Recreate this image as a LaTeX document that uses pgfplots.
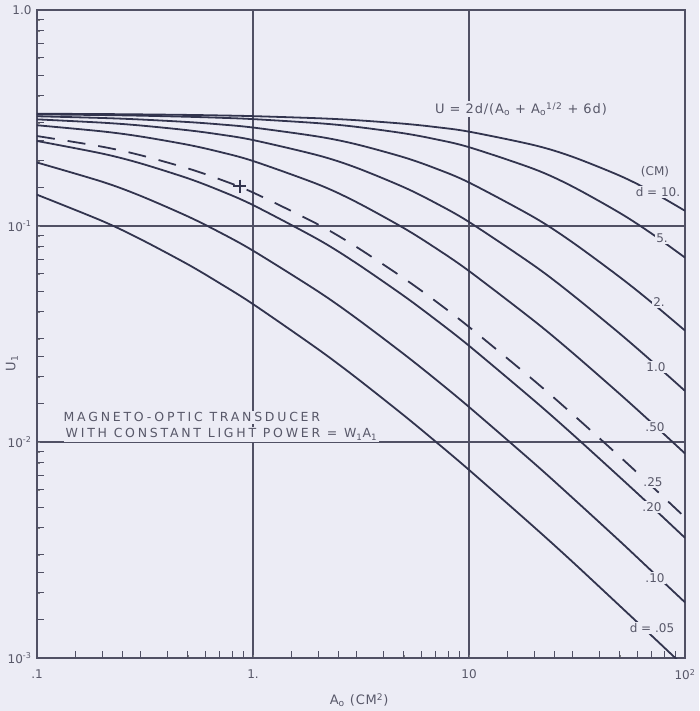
\documentclass[border=0pt]{standalone}
\usepackage{fontspec}
\setmainfont{DejaVu Sans}
\newfontfamily\spaced[LetterSpace=22]{DejaVu Sans}
\newfontfamily\formfont[LetterSpace=7]{DejaVu Sans}
\usepackage{pgfplots}
\pgfplotsset{compat=1.18}
\definecolor{bg}{RGB}{236,236,245}
\definecolor{ink}{RGB}{50,52,78}
\definecolor{frame}{RGB}{80,80,100}
\definecolor{txt}{RGB}{88,88,105}
\tikzset{curve/.style={ink, line width=1.8pt, smooth, mark=none}}
\begin{document}
\begin{tikzpicture}[x=1pt,y=1pt]
\fill[bg, use as bounding box] (0,0) rectangle (699,711);
\begin{axis}[
  at={(37pt,53pt)}, anchor=south west,
  width=648pt, height=648pt, scale only axis,
  xmode=log, ymode=log,
  xmin=0.1, xmax=100, ymin=0.001, ymax=1,
  xtick={0.1,1,10,100}, ytick={0.001,0.01,0.1,1},
  xticklabels={.1,1.,10,10\textsuperscript{2}},
  yticklabels={10\textsuperscript{-3},10\textsuperscript{-2},10\textsuperscript{-1},1.0},
  extra x ticks={0.15,0.2,0.25,0.3,0.4,0.5,0.6,0.7,0.8,0.9,1.5,2,2.5,3,4,5,6,7,8,9,15,20,25,30,40,50,60,70,80,90},
  extra y ticks={0.0015,0.002,0.0025,0.003,0.004,0.005,0.006,0.007,0.008,0.009,0.015,0.02,0.025,0.03,0.04,0.05,0.06,0.07,0.08,0.09,0.15,0.2,0.25,0.3,0.4,0.5,0.6,0.7,0.8,0.9},
  extra x tick labels={}, extra y tick labels={},
  extra tick style={grid=none, major tick length=7pt, tick style={frame, line width=1pt}},
  minor tick num=0,
  tick pos=left, tick align=inside,
  major tick length=0pt,
  grid=major,
  major grid style={frame, line width=1.1pt},
  axis line style={frame, line width=1.6pt},
  ticklabel style={font=\fontsize{12}{14}\selectfont, text=txt},
  xticklabel style={yshift=-8pt},
  yticklabel style={xshift=-2pt},
  xlabel={A\textsubscript{o} (CM\textsuperscript{2})},
  ylabel={U\textsubscript{1}},
  label style={font=\formfont\fontsize{13}{15}\selectfont, text=txt},
  xlabel style={at={(axis description cs:0.497,-0.0648)}, anchor=center},
  ylabel style={at={(axis description cs:-0.0386,0.455)}, anchor=center},
]
% d = 10
\addplot[curve] coordinates {(0.1,0.3310)(0.2,0.3298)(0.3,0.3287)(0.5,0.3268)(0.7,0.3250)(1,0.3226)(2,0.3154)(3,0.3090)(5,0.2975)(7,0.2872)(10,0.2734)(20,0.2368)(30,0.2095)(50,0.1708)(70,0.1445)(100,0.1176)};
% d = 5
\addplot[curve] coordinates {(0.1,0.3288)(0.2,0.3263)(0.3,0.3242)(0.5,0.3204)(0.7,0.3171)(1,0.3125)(2,0.2993)(3,0.2879)(5,0.2686)(7,0.2522)(10,0.2317)(20,0.1836)(30,0.1527)(50,0.1148)(70,0.0923)(100,0.0714)};
% d = 2
\addplot[curve] coordinates {(0.1,0.3222)(0.2,0.3163)(0.3,0.3113)(0.5,0.3029)(0.7,0.2955)(1,0.2857)(2,0.2595)(3,0.2391)(5,0.2079)(7,0.1848)(10,0.1590)(20,0.1097)(30,0.0843)(50,0.0579)(70,0.0443)(100,0.0328)};
% d = 1
\addplot[curve] coordinates {(0.1,0.3117)(0.2,0.3009)(0.3,0.2921)(0.5,0.2775)(0.7,0.2654)(1,0.25)(2,0.2124)(3,0.1864)(5,0.1511)(7,0.1278)(10,0.1044)(20,0.0656)(30,0.0482)(50,0.0317)(70,0.0237)(100,0.01724)};
% d = 0.5
\addplot[curve] coordinates {(0.1,0.2927)(0.2,0.2742)(0.3,0.2599)(0.5,0.2377)(0.7,0.2204)(1,0.2)(2,0.1559)(3,0.1293)(5,0.0977)(7,0.0791)(10,0.0619)(20,0.0364)(30,0.0260)(50,0.01665)(70,0.01229)(100,0.00885)};
% d = 0.25 (dashed)
\addplot[curve, dash pattern=on 18pt off 13pt] coordinates {(0.1,0.2609)(0.2,0.2329)(0.3,0.2130)(0.5,0.1847)(0.7,0.1647)(1,0.1429)(2,0.1017)(3,0.0802)(5,0.0572)(7,0.0449)(10,0.0341)(20,0.01925)(30,0.01352)(50,0.00854)(70,0.00626)(100,0.00448)};
% d = 0.2
\addplot[curve] coordinates {(0.1,0.2475)(0.2,0.2165)(0.3,0.1953)(0.5,0.1662)(0.7,0.1462)(1,0.125)(2,0.0867)(3,0.0674)(5,0.0474)(7,0.0369)(10,0.0279)(20,0.01558)(30,0.01091)(50,0.00686)(70,0.00503)(100,0.00360)};
% d = 0.1
\addplot[curve] coordinates {(0.1,0.1968)(0.2,0.1604)(0.3,0.1382)(0.5,0.1107)(0.7,0.0936)(1,0.0769)(2,0.0498)(3,0.0375)(5,0.0255)(7,0.01952)(10,0.01453)(20,0.00798)(30,0.00554)(50,0.00347)(70,0.00253)(100,0.00181)};
% d = 0.05
\addplot[curve] coordinates {(0.1,0.1396)(0.2,0.1056)(0.3,0.0871)(0.5,0.0664)(0.7,0.0544)(1,0.0435)(2,0.0269)(3,0.01987)(5,0.01327)(7,0.01005)(10,0.00743)(20,0.00404)(30,0.00280)(50,0.00174)(70,0.00127)(100,0.000907)};
% star
\addplot[ink, only marks, mark=+, mark size=6.5pt, mark options={line width=1.8pt, solid}] coordinates {(0.87,0.153)};
\end{axis}
\begin{scope}[every node/.style={fill=bg, inner sep=1.5pt, text=txt, font=\fontsize{12}{14}\selectfont}]
\node[font=\formfont\fontsize{13}{15}\selectfont] at (521,602) {U = 2d/(A\textsubscript{o} + A\textsubscript{o}\textsuperscript{1/2} + 6d)};
\node at (655,539) {(CM)};
\node at (658,519) {d = 10.};
\node at (662,473) {5.};
\node at (659,409) {2.};
\node at (656,344) {1.0};
\node at (655,284) {.50};
\node at (653,229) {.25};
\node at (652,204) {.20};
\node at (655,133) {.10};
\node at (652,83) {d = .05};
\end{scope}
\begin{scope}[every node/.style={fill=bg, inner sep=1.5pt, text=txt, anchor=base west, font=\spaced\fontsize{12.5}{15}\selectfont}]
\node at (62,289) {MAGNETO-OPTIC TRANSDUCER};
\node at (64,273) {WITH CONSTANT LIGHT POWER = W\textsubscript{1}A\textsubscript{1}};
\end{scope}
\end{tikzpicture}
\end{document}
